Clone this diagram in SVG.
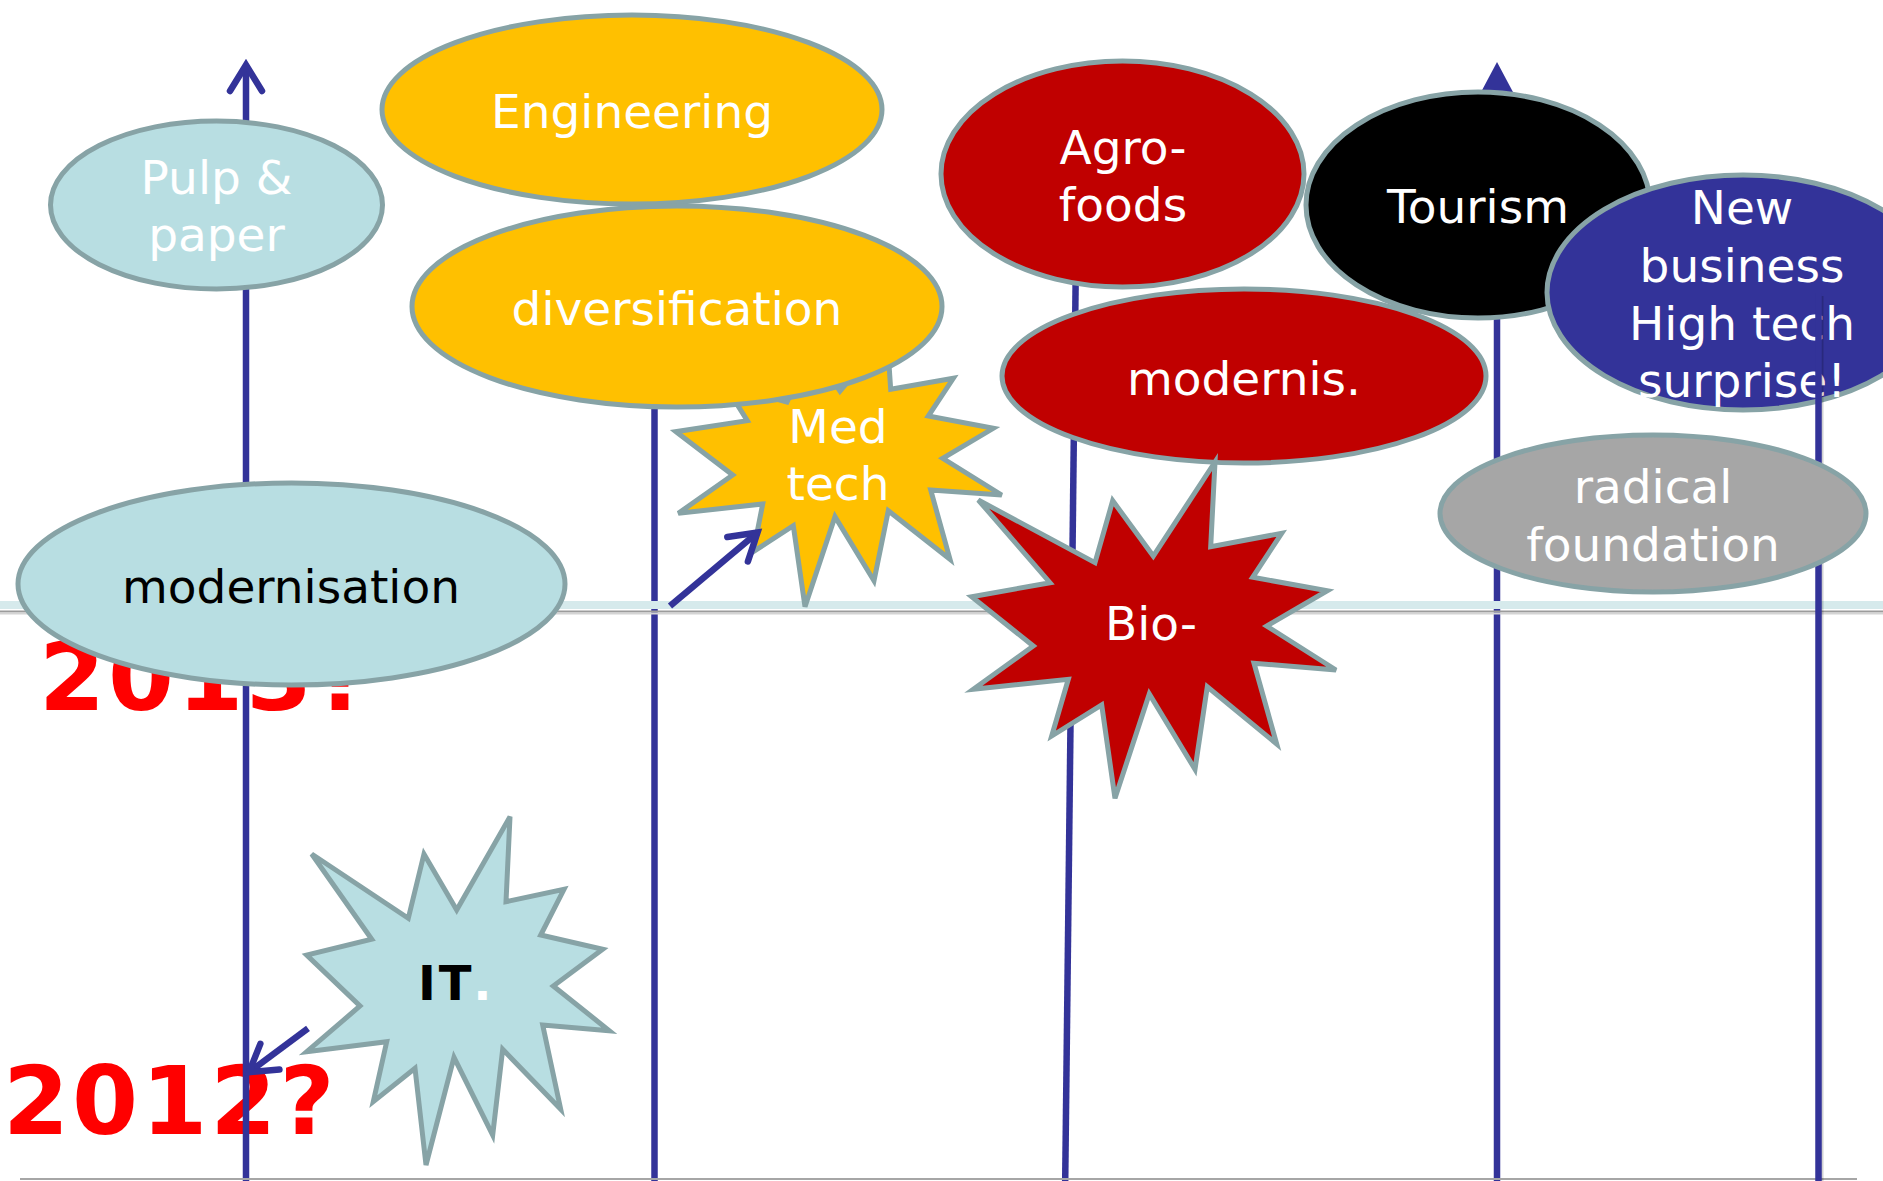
<svg xmlns="http://www.w3.org/2000/svg" width="1883" height="1181" viewBox="0 0 1883 1181">
<defs>
<style>
.ln{stroke:#333399;stroke-width:6.5;fill:none}
.node{stroke:#87a3a6;stroke-width:5}
.t{font-family:"DejaVu Sans",Verdana,sans-serif;font-size:47px;text-anchor:middle;fill:#ffffff}
.tb{fill:#000000}
.yr{font-family:"DejaVu Sans",Verdana,sans-serif;font-size:95px;font-weight:bold;fill:#ff0000;letter-spacing:3px}
.cyan{fill:#b8dee2}
.yel{fill:#ffc000}
.red{fill:#c00000}
</style>
<marker id="openArrow" markerUnits="userSpaceOnUse" markerWidth="60" markerHeight="60" viewBox="-40 -30 60 60" refX="0" refY="0" orient="auto">
<path d="M-26,-16 L0,0 L-26,16" fill="none" stroke="#333399" stroke-width="6.5" stroke-linecap="round" stroke-linejoin="miter"/>
</marker>
<marker id="solidArrow" markerUnits="userSpaceOnUse" markerWidth="60" markerHeight="60" viewBox="-40 -30 60 60" refX="-14" refY="0" orient="auto">
<path d="M-32,-17 L0,0 L-32,17 Z" fill="#333399"/>
</marker>
</defs>
<rect width="1883" height="1181" fill="#ffffff"/>

<g id="year-labels">
<text class="yr" x="39" y="710">2013?</text>
<text class="yr" x="3" y="1134">2012?</text>
</g>

<g id="connectors">
<line class="ln" x1="246" y1="1181" x2="246" y2="65" marker-end="url(#openArrow)"/>
<line class="ln" x1="654.5" y1="1181" x2="654.5" y2="395"/>
<line class="ln" x1="1065.2" y1="1181" x2="1076" y2="250"/>
<line class="ln" x1="1497" y1="1181" x2="1497" y2="76" marker-end="url(#solidArrow)"/>
</g>

<g id="timeline">
<rect x="0" y="601" width="1883" height="8" fill="#d6eaec"/>
<line x1="0" y1="611.5" x2="1883" y2="611.5" stroke="#9c9c9c" stroke-width="2"/>
<line x1="0" y1="613.5" x2="1883" y2="613.5" stroke="#d4d4d4" stroke-width="2"/>
<line x1="20" y1="1179" x2="1857" y2="1179" stroke="#a6a6a6" stroke-width="2"/>
</g>

<g id="node-pulp">
<ellipse class="node cyan" cx="216.5" cy="205" rx="166" ry="84"/>
<text class="t" x="216.5" y="194">Pulp &amp;</text>
<text class="t" x="216.5" y="251">paper</text>
</g>

<g id="node-engineering">
<ellipse class="node yel" cx="632" cy="109.5" rx="250" ry="94.5"/>
<text class="t" x="632" y="128">Engineering</text>
</g>

<g id="node-medtech">
<polygon class="node yel" points="676,431.7 732.7,475 678.3,513.3 762.7,504 753.3,551.7 793.3,525.7 805,606.7 835,516.7 874,580.7 888.3,510.7 950,559.3 930.7,490 1001.7,495 942.7,458.3 993.3,428.3 928.3,416 953.3,378.3 890.7,389.3 887,335 840,391 812,350 787,402 725,385 747.3,420.7"/>
<text class="t" x="838" y="443">Med</text>
<text class="t" x="838" y="500">tech</text>
</g>

<g id="node-diversification">
<ellipse class="node yel" cx="677" cy="306.5" rx="265" ry="100.5"/>
<text class="t" x="677" y="325">diversification</text>
</g>

<g id="node-modernisation">
<ellipse class="node cyan" cx="291.5" cy="584" rx="273.5" ry="101"/>
<text class="t tb" x="291" y="603">modernisation</text>
</g>

<g id="node-agrofoods">
<ellipse class="node red" cx="1122.5" cy="174" rx="181.5" ry="113"/>
<text class="t" x="1123" y="164">Agro-</text>
<text class="t" x="1123" y="221">foods</text>
</g>

<g id="node-tourism">
<ellipse class="node" fill="#000000" cx="1478" cy="205" rx="172" ry="113"/>
<text class="t" x="1478" y="223">Tourism</text>
</g>

<g id="node-modernis">
<ellipse class="node red" cx="1244" cy="376" rx="242" ry="87"/>
<text class="t" x="1244" y="395">modernis.</text>
</g>

<g id="node-bio">
<polygon class="node red" points="1215,462 1210.7,546.7 1281.7,533.3 1252.7,577.3 1327.3,590.7 1266.7,626 1336,670 1254,663.3 1276.7,744 1207.3,686.7 1195,769.3 1149.3,694 1115,798.3 1101.7,705 1051.7,736 1068.3,679.3 973.3,689.3 1033.3,646 971.7,596.7 1050,582.7 978.3,500 1095,562.7 1112.7,500.7 1153.3,556"/>
<text class="t" x="1151" y="640">Bio-</text>
</g>

<g id="node-newbusiness">
<ellipse class="node" fill="#333399" cx="1743" cy="292.5" rx="196" ry="117.5"/>
<text class="t" x="1742" y="224">New</text>
<text class="t" x="1742" y="282">business</text>
<text class="t" x="1742" y="340">High tech</text>
<text class="t" x="1742" y="397">surprise!</text>
</g>

<g id="connectors-front">
<line x1="1822" y1="296" x2="1822" y2="1181" stroke="#000000" stroke-opacity="0.18" stroke-width="3"/>
<line class="ln" x1="1818.5" y1="293" x2="1818.5" y2="1181"/>
<line class="ln" x1="670" y1="606" x2="757.5" y2="532.5" marker-end="url(#openArrow)"/>
<line class="ln" x1="308" y1="1028.4" x2="249" y2="1072.2" marker-end="url(#openArrow)"/>
</g>

<g id="node-radical">
<ellipse class="node" fill="#a6a6a6" cx="1653" cy="513.5" rx="213" ry="78.5"/>
<text class="t" x="1653" y="503">radical</text>
<text class="t" x="1653" y="561">foundation</text>
</g>

<g id="node-it">
<polygon class="node cyan" points="510,816.7 506,901.7 564,889.3 540.7,935 602.7,949.3 553.3,986 609.3,1030.7 542.7,1025 560.7,1109.3 502.7,1049.3 492.7,1135 454,1057.3 426,1165 415,1068.3 373.3,1101.7 386.7,1041.7 306.7,1051.7 360,1006 306.7,955 371.7,939.3 311.7,854 408.3,918.3 424,854 456.7,910"/>
<text x="418" y="1000" font-family="DejaVu Sans,Verdana,sans-serif" font-size="48" font-weight="bold" fill="#000000" letter-spacing="3">IT<tspan fill="#ffffff" dx="6">.</tspan></text>
</g>
</svg>
